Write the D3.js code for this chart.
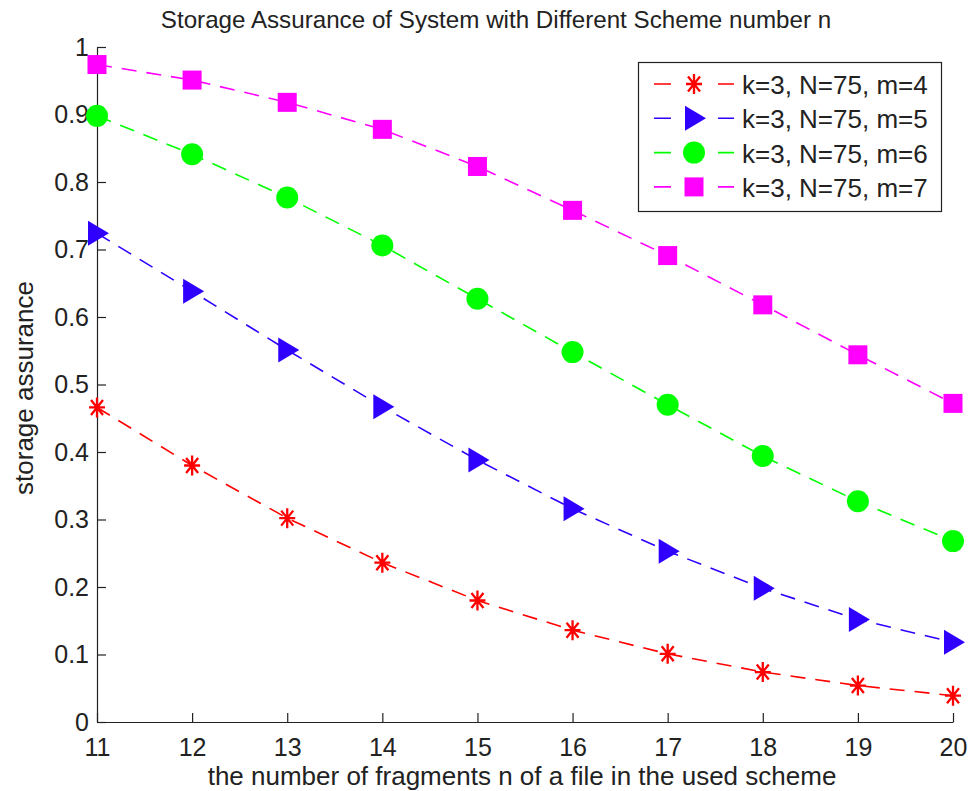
<html>
<head>
<script src='https://d3js.org/d3.v7.min.js'></script>
<style>
body {margin:0; background:white;}
svg text {font-family: "Liberation Sans", Arial, sans-serif; fill:#222;}
</style>
</head>
<body>
<svg width=969 height=791></svg>
<script>
// fragment counts n on the x axis
var nValues = [11, 12, 13, 14, 15, 16, 17, 18, 19, 20];
var seriesNames = ["k=3, N=75, m=4", "k=3, N=75, m=5", "k=3, N=75, m=6", "k=3, N=75, m=7"];
var m4 = [0.466, 0.380, 0.302, 0.236, 0.180, 0.136, 0.101, 0.074, 0.054, 0.039];
var m5 = [0.724, 0.638, 0.551, 0.467, 0.388, 0.316, 0.253, 0.198, 0.152, 0.118];
var m6 = [0.898, 0.841, 0.777, 0.706, 0.627, 0.548, 0.470, 0.394, 0.327, 0.268];
var m7 = [0.974, 0.951, 0.918, 0.878, 0.823, 0.758, 0.691, 0.618, 0.544, 0.472];
var yTicks = [0, 0.1, 0.2, 0.3, 0.4, 0.5, 0.6, 0.7, 0.8, 0.9, 1];

var colors = ["#ff0000", "#3000ff", "#00ff00", "#ff00ff"];
var shapes = ["star", "triangle", "circle", "square"];
var allSeries = [m4, m5, m6, m7];

var svg = d3.select("svg");
var x = d3.scaleLinear().domain([11, 20]).range([97, 953]);
var y = d3.scaleLinear().domain([0, 1]).range([722, 47]);

// axes, ticks pointing inward like matlab
var xAxis = d3.axisBottom(x).tickValues(nValues).tickFormat(d3.format("d"))
  .tickSizeInner(-9).tickSizeOuter(0).tickPadding(16);
var yAxis = d3.axisLeft(y).tickValues(yTicks).tickFormat(function(d) { return d3.format("~g")(d); })
  .tickSizeInner(-9).tickSizeOuter(0).tickPadding(8);

var gx = svg.append("g").attr("transform", "translate(0,722)").call(xAxis);
var gy = svg.append("g").attr("transform", "translate(97,0)").call(yAxis);
[gx, gy].forEach(function(g) {
  g.attr("font-family", null).attr("font-size", null);
  g.selectAll("path, line").attr("stroke", "#222").attr("stroke-width", 1.2);
  g.selectAll("text").style("font-size", "25px").attr("fill", "#222");
});

function drawMarker(g, shape, color) {
  if (shape == "star") {
    var p = "M0,-10V10M-8,0H8M-6,-7.5L6,7.5M-6,7.5L6,-7.5";
    g.append("path").attr("d", p).attr("stroke", color).attr("stroke-width", 2.3).attr("fill", "none");
  } else if (shape == "triangle") {
    g.append("path").attr("d", "M-9,-12.5L12,0L-9,12.5Z").attr("fill", color);
  } else if (shape == "circle") {
    g.append("circle").attr("r", 11).attr("fill", color);
  } else {
    g.append("rect").attr("x", -9.5).attr("y", -9.5).attr("width", 19).attr("height", 19).attr("fill", color);
  }
}

var line = d3.line().x(function(d, i) { return x(nValues[i]); }).y(function(d) { return y(d); });

allSeries.forEach(function(vals, s) {
  svg.append("path").datum(vals)
    .attr("d", line)
    .attr("fill", "none")
    .attr("stroke", colors[s])
    .attr("stroke-width", 1.6)
    .attr("stroke-dasharray", "15,10");
  vals.forEach(function(v, i) {
    var g = svg.append("g").attr("transform", "translate(" + x(nValues[i]) + "," + y(v) + ")");
    drawMarker(g, shapes[s], colors[s]);
  });
});

// title and axis labels
svg.append("text").attr("x", 496).attr("y", 28).attr("text-anchor", "middle")
  .style("font-size", "24.2px").text("Storage Assurance of System with Different Scheme number n");
svg.append("text").attr("x", 522).attr("y", 785).attr("text-anchor", "middle")
  .style("font-size", "26px").text("the number of fragments n of a file in the used scheme");
svg.append("text").attr("transform", "translate(33,388) rotate(-90)").attr("text-anchor", "middle")
  .style("font-size", "26px").text("storage assurance");

// legend
var leg = svg.append("g");
leg.append("rect").attr("x", 638.5).attr("y", 62.5).attr("width", 303).attr("height", 149)
  .attr("fill", "white").attr("stroke", "#222").attr("stroke-width", 1.2);
seriesNames.forEach(function(name, s) {
  var cy = 84 + s * 34.3;
  leg.append("line").attr("x1", 654).attr("x2", 734).attr("y1", cy).attr("y2", cy)
    .attr("stroke", colors[s]).attr("stroke-width", 1.6).attr("stroke-dasharray", "17,47");
  var g = leg.append("g").attr("transform", "translate(694," + cy + ")");
  drawMarker(g, shapes[s], colors[s]);
  leg.append("text").attr("x", 742).attr("y", cy + 10).style("font-size", "26px").text(name);
});
</script>
</body>
</html>
